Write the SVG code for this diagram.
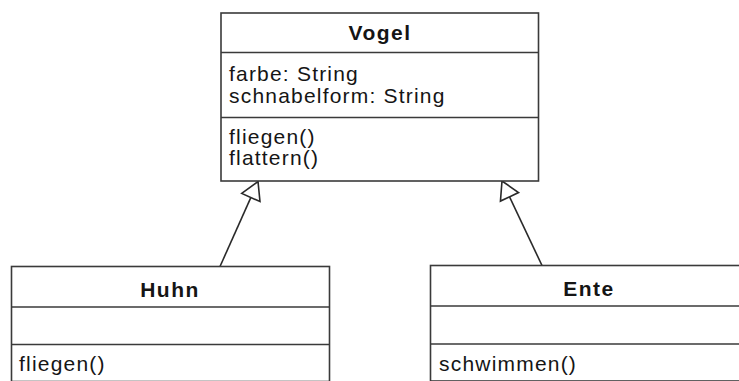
<svg xmlns="http://www.w3.org/2000/svg" width="739" height="381" viewBox="0 0 739 381">
  <style>
    .box { fill: #ffffff; stroke: #3a3a3a; stroke-width: 1.6; }
    .sep { stroke: #3a3a3a; stroke-width: 1.6; }
    .name { font-family: "Liberation Sans", Arial, sans-serif; font-weight: bold; font-size: 21px; letter-spacing: 1.5px; fill: #151515; text-anchor: middle; }
    .member { font-family: "Liberation Sans", Arial, sans-serif; font-size: 21px; letter-spacing: 1.2px; fill: #151515; }
    .inherit { stroke: #2a2a2a; stroke-width: 1.6; fill: none; marker-end: url(#hollow); }
  </style>
  <defs>
    <!-- hollow triangle for generalisation -->
    <marker id="hollow" markerUnits="userSpaceOnUse" viewBox="-20 -12 22 24" refX="0" refY="0" markerWidth="22" markerHeight="24" orient="auto">
      <path d="M -17.5 -10 L 0 0 L -17.5 10 Z" fill="#ffffff" stroke="#2a2a2a" stroke-width="1.6" stroke-linejoin="miter"/>
    </marker>
  </defs>

  <rect width="739" height="381" fill="#ffffff"/>

  <g id="connectors">
    <line class="inherit" x1="220" y1="266.5" x2="258" y2="181.5"/>
    <line class="inherit" x1="542" y1="265.5" x2="502" y2="181"/>
  </g>

  <g id="vogel">
    <rect class="box" x="221" y="13" width="317.5" height="168"/>
    <line class="sep" x1="221" y1="52.5" x2="538.5" y2="52.5"/>
    <line class="sep" x1="221" y1="117.5" x2="538.5" y2="117.5"/>
    <text class="name" x="380" y="40">Vogel</text>
    <text class="member" x="229" y="81">farbe: String</text>
    <text class="member" x="229" y="103">schnabelform: String</text>
    <text class="member" x="229" y="144">fliegen()</text>
    <text class="member" x="229" y="165">flattern()</text>
  </g>

  <g id="huhn">
    <rect class="box" x="11.5" y="266.5" width="318" height="115"/>
    <line class="sep" x1="11.5" y1="307" x2="329.5" y2="307"/>
    <line class="sep" x1="11.5" y1="344.5" x2="329.5" y2="344.5"/>
    <text class="name" x="170" y="297">Huhn</text>
    <text class="member" x="19" y="371">fliegen()</text>
  </g>

  <g id="ente">
    <rect class="box" x="430.5" y="265.5" width="320" height="115.5"/>
    <line class="sep" x1="430.5" y1="306" x2="750" y2="306"/>
    <line class="sep" x1="430.5" y1="344" x2="750" y2="344"/>
    <text class="name" x="589" y="296">Ente</text>
    <text class="member" x="439" y="371">schwimmen()</text>
  </g>
</svg>
